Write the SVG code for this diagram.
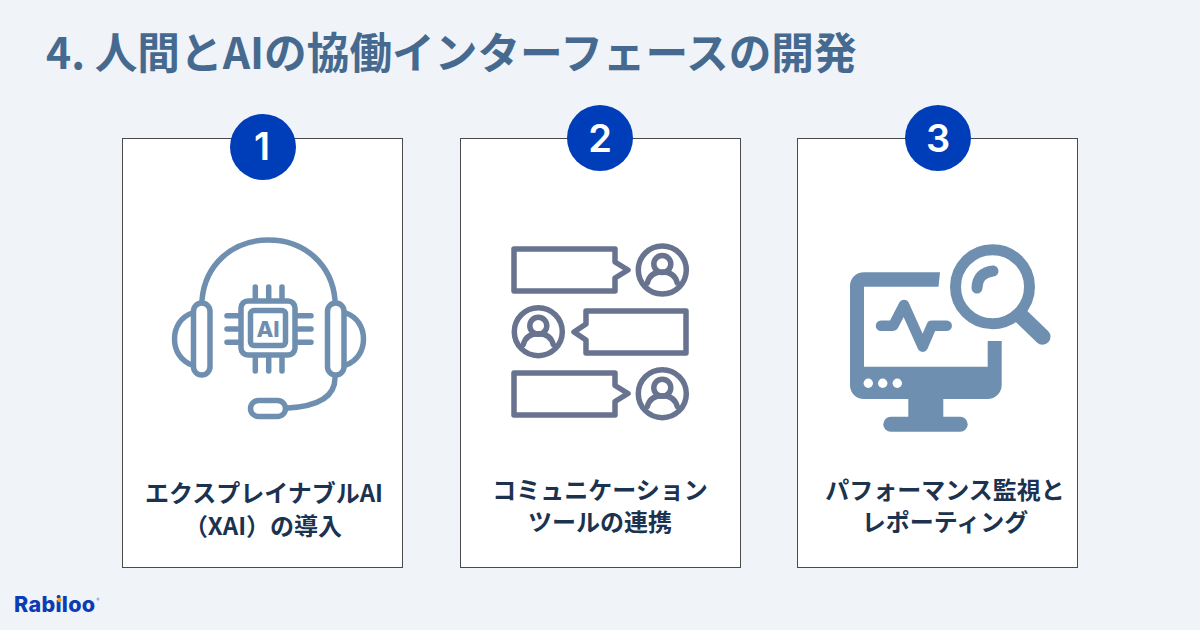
<svg xmlns="http://www.w3.org/2000/svg" width="1200" height="630" viewBox="0 0 1200 630">
<style>
.jp{font-family:"Noto Sans CJK JP","Noto Sans",sans-serif;font-weight:700}
.title{font-size:42.67px;fill:#466a8f}
.label{font-size:24px;fill:#1c3350;text-anchor:middle}
.card{fill:#fff;stroke:#4a4a4a;stroke-width:1}
.badge{fill:#003db8}
.num{font-family:Inter,"Liberation Sans",sans-serif;font-weight:600;font-size:38px;fill:#fff;text-anchor:middle}
.i1{fill:none;stroke:#6f8fb0;stroke-width:5.5;stroke-linecap:round;stroke-linejoin:round}
.i2{fill:none;stroke:#68738f;stroke-width:5.5;stroke-linecap:round;stroke-linejoin:round}
.i3{fill:#6f8fb0}
.i3s{fill:none;stroke:#6f8fb0;stroke-linecap:round;stroke-linejoin:round}
</style>
<defs>
<g id="user"><circle r="24" class="i2"/><circle cy="-6" r="8.5" class="i2"/><path class="i2" d="M-15,13C-13,5-7,2 0,2C7,2 13,5 15,13"/></g>
</defs>
<rect width="1200" height="630" fill="#f0f3f8"/>
<text class="jp title" x="46" y="69">4. 人間とAIの協働インターフェースの開発</text>
<g id="node-1">
<rect class="card" x="122.5" y="138.5" width="280" height="429"/>
<circle class="badge" cx="263" cy="147" r="33"/>
<text class="num" x="262" y="160">1</text>
<g id="icon-headset">
<path class="i1" d="M202,300C205,265 232,240 268.500,240C305,240 332,265 335,300"/>
<rect class="i1" x="193.500" y="303" width="16.500" height="72" rx="8.250"/>
<rect class="i1" x="327.500" y="303" width="16.500" height="72" rx="8.250"/>
<path class="i1" d="M192,313C181,317 174.500,327 174.500,339C174.500,351 181,361 192,365"/>
<path class="i1" d="M346,313C357,317 363.500,327 363.500,339C363.500,351 357,361 346,365"/>
<rect class="i1" x="241" y="301" width="54" height="54" rx="7"/>
<rect class="i1" x="250.500" y="310.500" width="35" height="35" rx="3.500"/>
<path class="i1" stroke-width="4.500" d="M255.300,287V298M268.700,287V298M282,287V298M255.300,358V371M268.700,358V371M282,358V371M227,315.700H238M227,329H238M227,342.300H238M298,315.700H311M298,329H311M298,342.300H311"/>
<text x="268" y="337" font-family="Inter,sans-serif" font-weight="800" font-size="22" fill="#6f8fb0" text-anchor="middle">AI</text>
<rect class="i1" x="250.500" y="400.500" width="35" height="16" rx="8"/>
<path class="i1" d="M335,378C335,396 320,406 288,408"/>
</g>
<text class="jp label" x="264" y="502">エクスプレイナブルAI</text>
<text class="jp label" x="263" y="535">（XAI）の導入</text>
</g>
<g id="node-2">
<rect class="card" x="460.5" y="138.5" width="280" height="429"/>
<circle class="badge" cx="600" cy="138" r="33"/>
<text class="num" x="600" y="152">2</text>
<g id="icon-chat">
<path class="i2" d="M514,249H615V262L628,270L615,278V291H514Z"/>
<path class="i2" d="M686,311H586V324L574,332L586,340V353H686Z"/>
<path class="i2" d="M514,373H615V385.500L628,393.500L615,401.500V415H514Z"/>
<use href="#user" x="662.300" y="270"/>
<use href="#user" x="538.300" y="331.700"/>
<use href="#user" x="662.300" y="393.700"/>
</g>
<text class="jp label" x="600" y="499">コミュニケーション</text>
<text class="jp label" x="600" y="531">ツールの連携</text>
</g>
<g id="node-3">
<rect class="card" x="797.5" y="138.5" width="280" height="429"/>
<circle class="badge" cx="938" cy="138" r="33"/>
<text class="num" x="938" y="152">3</text>
<g id="icon-monitor">
<path class="i3" fill-rule="evenodd" d="M864,272.300H940L938.500,286.700H864V366.700H987.700V341H1001.700V385C1001.700,393 995,399 987.700,399H864C856,399 850,393 850,385V286.300C850,278 856,272.300 864,272.300Z"/>
<circle cx="868.300" cy="383.300" r="4.700" fill="#fff"/><circle cx="882.700" cy="383.300" r="4.700" fill="#fff"/><circle cx="897.300" cy="383.300" r="4.700" fill="#fff"/>
<rect class="i3" x="908.300" y="398" width="35" height="20"/>
<rect class="i3" x="883.300" y="416.700" width="84.400" height="15" rx="7.500"/>
<path class="i3s" stroke-width="10.500" d="M881,325.700H893.300L904,305L922.700,346.700L931.700,325.700H946.700"/>
<circle class="i3s" cx="992.500" cy="286.800" r="37" stroke-width="11"/>
<path class="i3s" stroke-width="16" d="M1020.500,315.500L1042.500,336.700"/>
<path class="i3s" stroke-width="11" d="M993,271C983,272 977,278 977,288"/>
</g>
<text class="jp label" x="945" y="499">パフォーマンス監視と</text>
<text class="jp label" x="945" y="531">レポーティング</text>
</g>
<g id="logo">
<text x="14" y="612" font-family="Inter,sans-serif" font-weight="800" font-size="21.500" letter-spacing="0.300" fill="#0a3db5">Rabiloo</text>
<circle cx="59.500" cy="600" r="2.200" fill="#f5a623"/>
<circle cx="98" cy="599" r="1.500" fill="#9db4e0"/>
</g>
</svg>
